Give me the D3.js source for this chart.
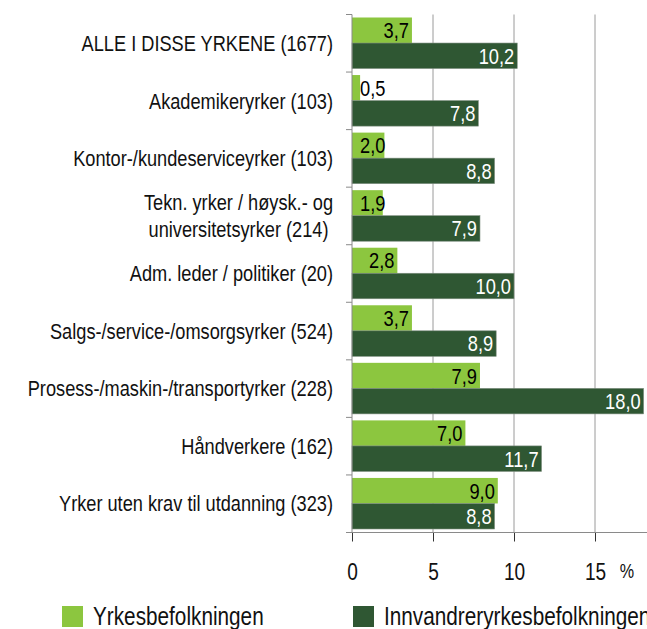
<!DOCTYPE html>
<html>
<head>
<meta charset="utf-8">
<script src="https://cdn.jsdelivr.net/npm/d3@7"></script>
<style>
    body { margin: 0; background: #fff; }
    svg text { font-family: "Liberation Sans", Arial, sans-serif; }
</style>
</head>
<body>
<div id="chart-area"></div>
<script>
// categories (top to bottom) and the two series
const categories = [
    "ALLE I DISSE YRKENE (1677)",
    "Akademikeryrker (103)",
    "Kontor-/kundeserviceyrker (103)",
    "Tekn. yrker / høysk.- og\nuniversitetsyrker (214)",
    "Adm. leder / politiker (20)",
    "Salgs-/service-/omsorgsyrker (524)",
    "Prosess-/maskin-/transportyrker (228)",
    "Håndverkere (162)",
    "Yrker uten krav til utdanning (323)"
];
const yrkesbef = [3.7, 0.5, 2.0, 1.9, 2.8, 3.7, 7.9, 7.0, 9.0];
const innvandrer = [10.2, 7.8, 8.8, 7.9, 10.0, 8.9, 18.0, 11.7, 8.8];
const seriesNames = ["Yrkesbefolkningen", "Innvandreryrkesbefolkningen"];
const xTicks = [0, 5, 10, 15];

const COLORS = ["#8cc63f", "#2f5733"];
const W = 647, H = 629;
const LEFT = 352, TOP = 14.5, BOTTOM = 532.5;
const SX = 0.83;   // horizontal squeeze to fake a narrow face

const svg = d3.select("#chart-area").append("svg")
    .attr("width", W).attr("height", H);

const xScale = d3.scaleLinear().domain([0, 15]).range([LEFT, LEFT + 243]);
const yScale = d3.scaleBand().domain(categories).range([TOP, BOTTOM]);
const sub = d3.scaleBand().domain([0, 1]).range([3, yScale.bandwidth() - 3.5]);

// gridlines
svg.append("g").selectAll("line")
    .data(xTicks.slice(1))
    .join("line")
    .attr("x1", d => xScale(d)).attr("x2", d => xScale(d))
    .attr("y1", TOP).attr("y2", BOTTOM)
    .attr("stroke", "#9a9a9a").attr("stroke-width", 1);

// bars
const rows = categories.map((c, i) => ({cat: c, vals: [yrkesbef[i], innvandrer[i]]}));
const fmt = v => v.toFixed(1).replace(".", ",");

const row = svg.append("g").selectAll("g")
    .data(rows)
    .join("g")
    .attr("transform", d => `translate(0, ${yScale(d.cat)})`);

row.selectAll("rect")
    .data(d => d.vals)
    .join("rect")
    .attr("x", xScale(0))
    .attr("y", (d, j) => sub(j))
    .attr("width", d => xScale(d) - xScale(0))
    .attr("height", sub.bandwidth())
    .attr("fill", (d, j) => COLORS[j])
    .attr("stroke", (d, j) => j ? "#7f8f80" : "none")
    .attr("stroke-width", 0.6);

row.selectAll("text.val")
    .data(d => d.vals)
    .join("text")
    .attr("class", "val")
    .attr("text-anchor", "end")
    .attr("dy", "0.36em")
    .attr("font-size", 22)
    .attr("fill", (d, j) => j ? "#fff" : "#000")
    .text(d => fmt(d))
    .attr("transform", function (d, j) {
        const w = this.getComputedTextLength() * SX;
        const x = Math.max(xScale(d) - 3, xScale(0) + w + 8);
        return `translate(${x}, ${sub(j) + sub.bandwidth() / 2}) scale(${SX}, 1)`;
    });

// left axis line + category ticks
svg.append("line")
    .attr("x1", LEFT).attr("x2", LEFT)
    .attr("y1", TOP).attr("y2", BOTTOM)
    .attr("stroke", "#8a8a8a");
svg.append("g").selectAll("line")
    .data(categories.map(c => yScale(c)).concat([BOTTOM]))
    .join("line")
    .attr("x1", LEFT - 6).attr("x2", LEFT)
    .attr("y1", d => d).attr("y2", d => d)
    .attr("stroke", "#8a8a8a");

// category labels (multi-line ones centred as a block, block right-aligned)
svg.append("g").selectAll("text")
    .data(categories)
    .join("text")
    .attr("font-size", 21.5)
    .attr("fill", "#111")
    .each(function (c) {
        const el = d3.select(this);
        const lines = c.split("\n");
        const cy = yScale(c) + yScale.bandwidth() / 2;
        const lh = 27;
        el.attr("transform", `translate(333, ${cy}) scale(${SX * 1.02}, 1)`);
        lines.forEach((l, k) => {
            el.append("tspan")
                .attr("y", (k - (lines.length - 1) / 2) * lh)
                .attr("dy", "0.36em")
                .text(l);
        });
        const widths = [];
        el.selectAll("tspan").each(function () { widths.push(this.getComputedTextLength()); });
        const maxW = d3.max(widths);
        if (lines.length > 1) {
            el.attr("text-anchor", "middle");
            el.selectAll("tspan").attr("x", -maxW / 2);
        } else {
            el.attr("text-anchor", "end");
            el.selectAll("tspan").attr("x", 0);
        }
    });

// bottom axis
const xAxis = svg.append("g")
    .attr("transform", `translate(0, ${BOTTOM})`)
    .call(d3.axisBottom(xScale).tickValues(xTicks).tickSize(9).tickPadding(22));
xAxis.select(".domain").remove();
xAxis.append("line")
    .attr("x1", LEFT - 6).attr("x2", W)
    .attr("stroke", "#8a8a8a");
xAxis.selectAll(".tick line").attr("stroke", "#333");
xAxis.selectAll(".tick text")
    .attr("font-size", 23)
    .attr("fill", "#111")
    .attr("font-family", null)
    .attr("transform", `scale(${SX}, 1)`);

svg.append("text")
    .attr("transform", `translate(627, 578) scale(${SX}, 1)`)
    .attr("text-anchor", "middle")
    .attr("font-size", 19.5)
    .attr("fill", "#111")
    .text("%");

// legend
const legend = svg.append("g").selectAll("g")
    .data(seriesNames)
    .join("g")
    .attr("transform", (d, i) => `translate(${i ? 353 : 62}, 606)`);
legend.append("rect")
    .attr("width", 21).attr("height", 21)
    .attr("fill", (d, i) => COLORS[i]);
legend.append("text")
    .attr("transform", `translate(31, 19) scale(${SX}, 1)`)
    .attr("font-size", 25)
    .attr("fill", "#111")
    .text(d => d);
</script>
</body>
</html>
